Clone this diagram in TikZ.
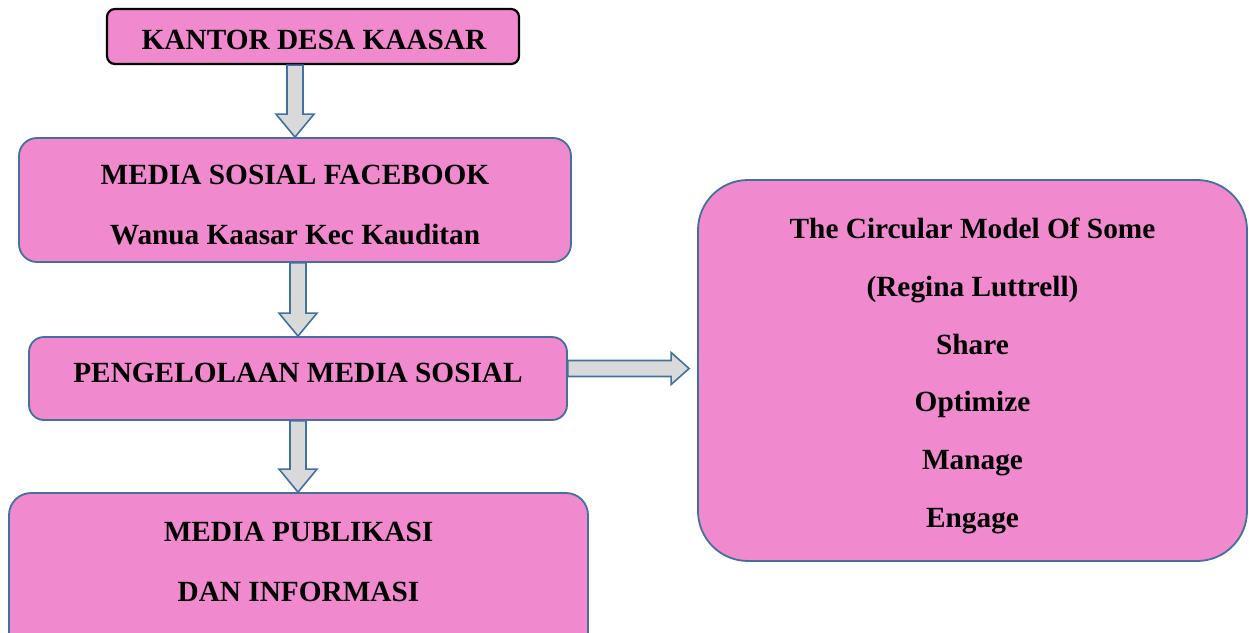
\documentclass[tikz,border=0pt]{standalone}
\usepackage{fontspec}
\setmainfont{Liberation Serif}
\usetikzlibrary{calc}
\definecolor{pinkfill}{RGB}{240,137,205}
\definecolor{boxblue}{RGB}{65,113,156}
\definecolor{arrgray}{RGB}{217,217,217}
\tikzset{
  box/.style={draw=boxblue, line width=1.8pt, fill=pinkfill, inner sep=0pt},
  boxtext/.style={inner sep=0pt, align=center, font=\fontsize{29.3}{60}\selectfont\bfseries},
  blockarrow/.style={draw=boxblue, line width=1.6pt, fill=arrgray, line join=miter}
}
\newcommand\vblock[2]{\draw[blockarrow] let \p1=(#1), \p2=(#2) in
  (\x1-8pt,\y1) -- (\x1+8pt,\y1) -- (\x1+8pt,\y2+23pt) -- (\x1+19pt,\y2+23pt) --
  (\x1,\y2) -- (\x1-19pt,\y2+23pt) -- (\x1-8pt,\y2+23pt) -- cycle;}
\begin{document}
\begin{tikzpicture}[x=1pt,y=-1pt]
\useasboundingbox (0,0) rectangle (1249,632);
% boxes
\node[box, draw=black, line width=2.2pt, rounded corners=8pt, minimum width=412pt, minimum height=55pt] (kantor) at (313,36.5) {};
\node[box, rounded corners=18pt, minimum width=552pt, minimum height=124pt] (fb) at (295,200) {};
\node[box, rounded corners=15pt, minimum width=538pt, minimum height=83pt] (peng) at (298,378.5) {};
\node[box, rounded corners=22pt, minimum width=579pt, minimum height=167pt] (pub) at (298.5,576.5) {};
\node[box, rounded corners=50pt, minimum width=549pt, minimum height=381pt] (model) at (972.5,370.5) {};
% texts
\node[boxtext] (kantortext) at (314,40) {KANTOR DESA KAASAR};
\node[boxtext] (fbtext) at (295,205) {MEDIA SOSIAL FACEBOOK\\Wanua Kaasar Kec Kauditan};
\node[boxtext] (pengtext) at (298,372.5) {PENGELOLAAN MEDIA SOSIAL};
\node[boxtext] (pubtext) at (298.5,562) {MEDIA PUBLIKASI\\DAN INFORMASI};
\node[boxtext, font=\fontsize{29.3}{57.8}\selectfont\bfseries] (modeltext) at (972.5,376)
  {The Circular Model Of Some\\(Regina Luttrell)\\Share\\Optimize\\Manage\\Engage};
% arrows
\vblock{kantor.south -| fb.north}{fb.north}
\vblock{fb.south -| peng.north}{peng.north}
\vblock{peng.south}{pub.north}
\draw[blockarrow] let \p1=($(peng.east)+(0,-10)$), \p2=(model.west) in
  (\x1,\y1+8pt) -- (\x2-26pt,\y1+8pt) -- (\x2-26pt,\y1+16pt) -- (\x2-8pt,\y1) --
  (\x2-26pt,\y1-16pt) -- (\x2-26pt,\y1-8pt) -- (\x1,\y1-8pt) -- cycle;
\end{tikzpicture}
\end{document}
